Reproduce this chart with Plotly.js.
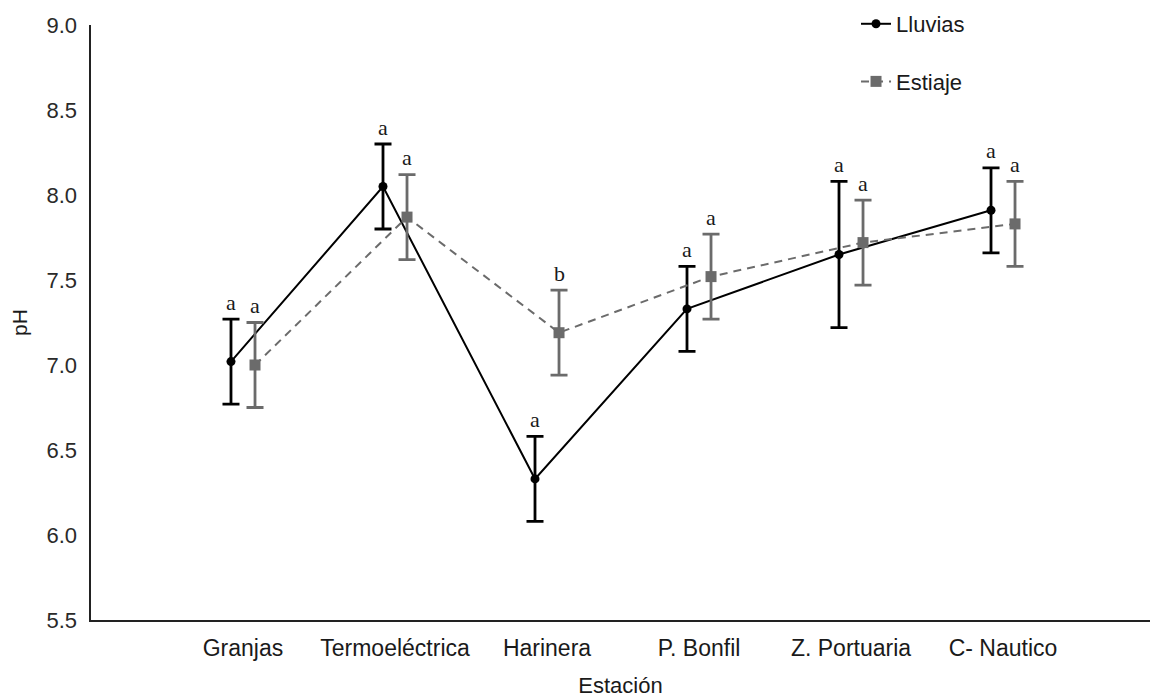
<!DOCTYPE html>
<html>
<head>
<meta charset="utf-8">
<script src="https://cdn.plot.ly/plotly-3.0.1.min.js"></script>
<style>
  html, body { margin: 0; padding: 0; background: #ffffff; }
  #chart { width: 1150px; height: 700px; }
</style>
</head>
<body>
<div id="chart"></div>
<script>
// pH por estación de muestreo, temporada de lluvias y de estiaje
const estaciones = ['Granjas', 'Termoeléctrica', 'Harinera', 'P. Bonfil', 'Z. Portuaria', 'C- Nautico'];
const lluvias = [7.02, 8.05, 6.33, 7.33, 7.65, 7.91];
const lluviasErr = [0.25, 0.25, 0.25, 0.25, 0.43, 0.25];
const estiaje = [7.00, 7.87, 7.19, 7.52, 7.72, 7.83];
const estiajeErr = [0.25, 0.25, 0.25, 0.25, 0.25, 0.25];
const letrasLluvias = ['a', 'a', 'a', 'a', 'a', 'a'];
const letrasEstiaje = ['a', 'a', 'b', 'a', 'a', 'a'];
const yTicks = [5.5, 6.0, 6.5, 7.0, 7.5, 8.0, 8.5, 9.0];

// horizontal dodge so both seasons are visible at each station
const dodge = 0.079;
const idx = estaciones.map((_, i) => i);
const xLluvias = idx.map(i => i - dodge);
const xEstiaje = idx.map(i => i + dodge);

const negro = '#000000';
const gris = '#6b6b6b';
const sans = 'Liberation Sans, Arial, sans-serif';

const traces = [
  {
    type: 'scatter', mode: 'lines+markers', name: 'Lluvias', legendgroup: 'll',
    x: xLluvias, y: lluvias,
    line: { color: negro, width: 2 },
    marker: { color: negro, symbol: 'circle', size: 9 },
    error_y: { type: 'data', array: lluviasErr, visible: true, color: negro, thickness: 2.8, width: 8.5 }
  },
  {
    type: 'scatter', mode: 'lines+markers', name: 'Estiaje', legendgroup: 'es',
    x: xEstiaje, y: estiaje,
    line: { color: gris, width: 2, dash: '8px,6px' },
    marker: { color: gris, symbol: 'square', size: 11 },
    error_y: { type: 'data', array: estiajeErr, visible: true, color: gris, thickness: 2.8, width: 8.5 }
  }
];

// significance letters above each error bar
const letra = (x, y, t) => ({
  x: x, y: y, xref: 'x', yref: 'y', text: t, showarrow: false,
  yanchor: 'middle', yshift: 17,
  font: { family: 'Liberation Serif, Times New Roman, serif', size: 22, color: '#1a1a1a' }
});
const annotations = [];
idx.forEach(i => {
  annotations.push(letra(xLluvias[i], lluvias[i] + lluviasErr[i], letrasLluvias[i]));
  annotations.push(letra(xEstiaje[i], estiaje[i] + estiajeErr[i], letrasEstiaje[i]));
});

const layout = {
  width: 1150, height: 700,
  margin: { l: 91, r: 0, t: 25, b: 80 },
  paper_bgcolor: '#ffffff', plot_bgcolor: '#ffffff',
  showlegend: true,
  legend: {
    x: 0.7224, y: 1.037, xanchor: 'left', yanchor: 'top',
    traceorder: 'grouped', tracegroupgap: 26,
    font: { family: sans, size: 22, color: '#1a1a1a' },
    bgcolor: 'rgba(0,0,0,0)'
  },
  xaxis: {
    range: [-1, 5.967],
    tickmode: 'array', tickvals: idx, ticktext: estaciones,
    showgrid: false, zeroline: false,
    showline: true, linecolor: '#222222', linewidth: 1.6,
    ticks: '', ticklabelstandoff: 7,
    tickfont: { family: sans, size: 23, color: '#1a1a1a' },
    title: { text: 'Estación', standoff: 17,
      font: { family: sans, size: 22, color: '#1a1a1a' } },
    fixedrange: true
  },
  yaxis: {
    range: [5.5, 9.0],
    tickmode: 'array', tickvals: yTicks, ticktext: yTicks.map(v => v.toFixed(1)),
    showgrid: false, zeroline: false,
    showline: true, linecolor: '#222222', linewidth: 1.6,
    ticks: '', ticklabelstandoff: 8,
    tickfont: { family: sans, size: 22, color: '#2a2a2a' },
    title: { text: 'pH', standoff: 13,
      font: { family: sans, size: 21, color: '#1a1a1a' } },
    fixedrange: true
  },
  annotations: annotations
};

Plotly.newPlot('chart', traces, layout, { displayModeBar: false, staticPlot: true });
</script>
</body>
</html>
